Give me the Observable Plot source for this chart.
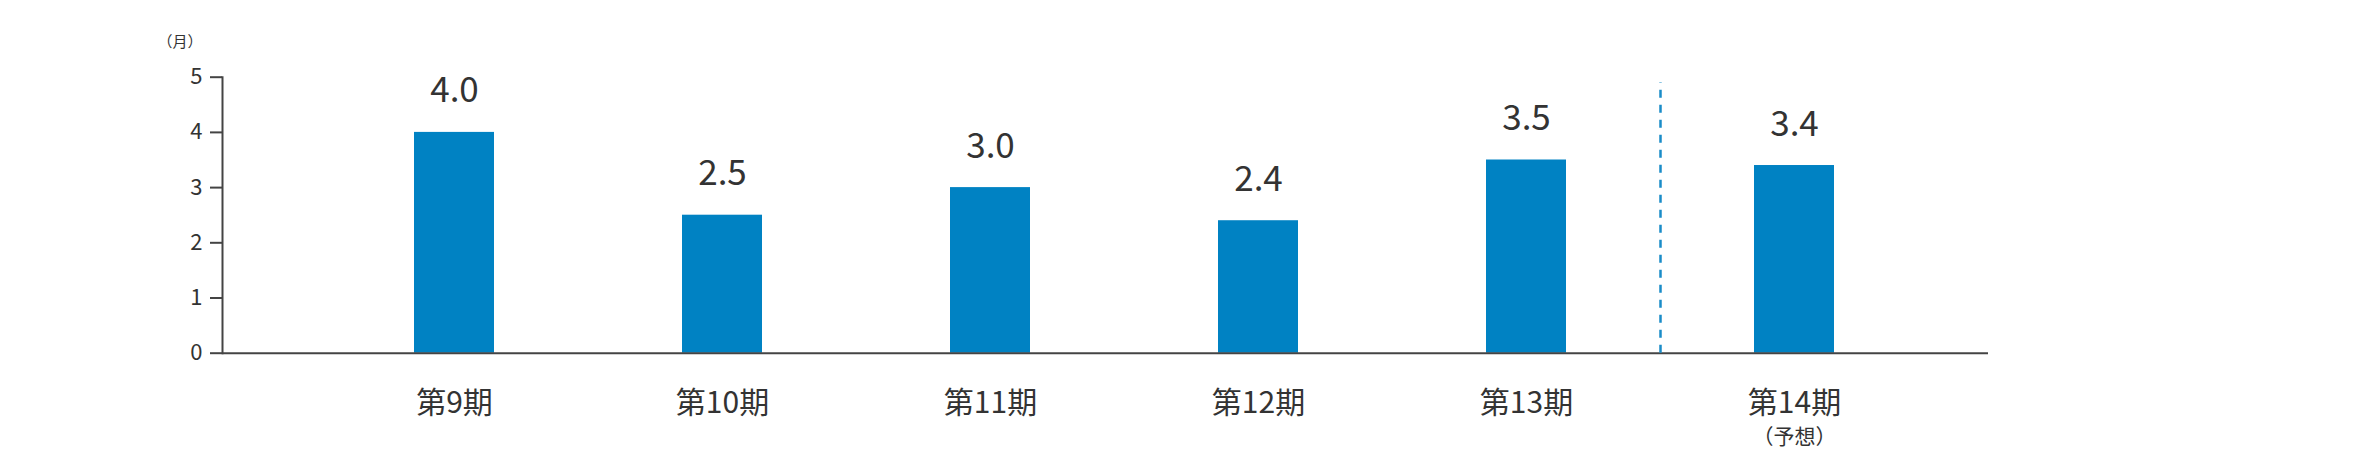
<!DOCTYPE html>
<html>
<head>
<meta charset="utf-8">
<script src="https://cdn.jsdelivr.net/npm/d3@7"></script>
<script src="https://cdn.jsdelivr.net/npm/@observablehq/plot@0.6"></script>
<style>
  html, body { margin: 0; padding: 0; background: #fff; }
  #chart svg { display: block; }
</style>
</head>
<body>
<div id="chart"></div>
<script>
const periods = ["第9期", "第10期", "第11期", "第12期", "第13期", "第14期"];
const values = [4.0, 2.5, 3.0, 2.4, 3.5, 3.4];
const yTicks = [0, 1, 2, 3, 4, 5];
const unitLabel = "（月）";
const forecastPeriod = "第14期";
const forecastNote = "（予想）";

const data = periods.map((p, i) => ({period: p, value: values[i]}));

const textColor = "#333333";
const barColor = "#0082c3";

const chart = Plot.plot({
  width: 2364,
  height: 460,
  marginLeft: 222,
  marginRight: 376,
  marginTop: 76.7,
  marginBottom: 107.3,
  style: {fontFamily: "'Noto Sans CJK JP', 'Noto Sans', sans-serif", color: textColor, background: "#fff"},
  x: {domain: periods, paddingInner: 0.7015, paddingOuter: 0.6455, align: 0.555, axis: null},
  y: {domain: [0, 5], axis: null},
  marks: [
    Plot.barY(data, {x: "period", y: "value", fill: barColor}),
    Plot.axisY(yTicks, {tickSize: 12, tickPadding: 8, fontSize: 22, tickFormat: d3.format("d"), stroke: "#444", strokeWidth: 2, fill: textColor, label: null}),
    Plot.axisX(periods, {tickSize: 0, tickPadding: 38, fontSize: 30, fill: textColor, label: null}),
    Plot.frame({anchor: "left", stroke: "#444", strokeWidth: 2}),
    Plot.ruleY([0], {stroke: "#444", strokeWidth: 2}),
    Plot.ruleX([forecastPeriod], {x: d => d, y1: 0, y2: 4.9, dx: -134, stroke: "#1a8cc8", strokeWidth: 2.5, strokeDasharray: "8,7"}),
    Plot.text(data, {x: "period", y: "value", text: d => d.value.toFixed(1), dy: -30, lineAnchor: "bottom", fontSize: 35, fill: textColor}),
    Plot.text([forecastNote], {x: () => forecastPeriod, frameAnchor: "bottom", lineAnchor: "bottom", dy: 91, fontSize: 21, fill: textColor}),
    Plot.text([unitLabel], {frameAnchor: "top-left", textAnchor: "end", lineAnchor: "bottom", dx: -20, dy: -30, fontSize: 15, fill: textColor})
  ]
});
document.getElementById("chart").appendChild(chart);
</script>
</body>
</html>
